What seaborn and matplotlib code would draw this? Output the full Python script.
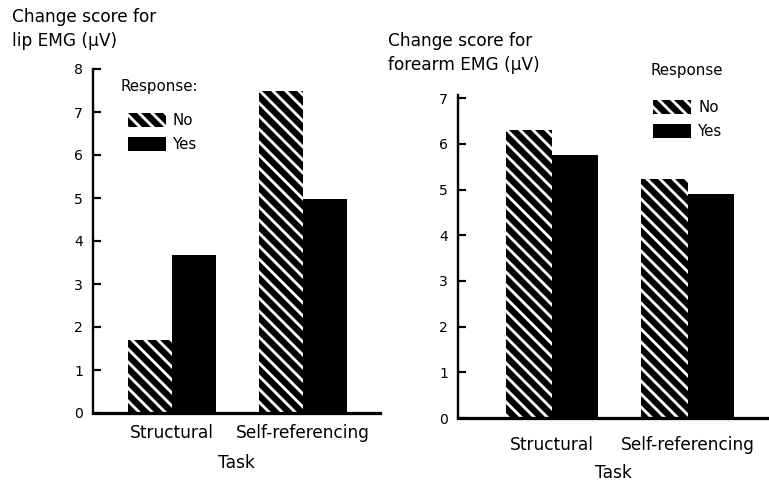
import numpy as np
import pandas as pd
import matplotlib
matplotlib.use("Agg")
import matplotlib.pyplot as plt
import seaborn as sns

# Change scores by task and response
tasks = ["Structural", "Self-referencing"]
responses = ["No", "Yes"]
lip_no = [1.70, 7.50]
lip_yes = [3.68, 4.97]
forearm_no = [6.30, 5.23]
forearm_yes = [5.75, 4.90]
lip_ticks = [0, 1, 2, 3, 4, 5, 6, 7, 8]
forearm_ticks = [0, 1, 2, 3, 4, 5, 6, 7]

DPI = 78
PX = 72.0 / DPI  # points per pixel

sns.set_theme(style="white")
plt.rcParams["font.family"] = ["DejaVu Sans"]
plt.rcParams["text.color"] = "black"
plt.rcParams["axes.labelcolor"] = "black"
plt.rcParams["hatch.linewidth"] = 2.6


def frame(no_vals, yes_vals):
    rows = []
    for t, n, y in zip(tasks, no_vals, yes_vals):
        rows.append({"Task": t, "Response": responses[0], "value": n})
        rows.append({"Task": t, "Response": responses[1], "value": y})
    return pd.DataFrame(rows)


def draw_panel(ax, df, width, ylim, ticks, xlim, legend_title, title_xy,
               legend_anchor, xpad, labelpad):
    sns.barplot(data=df, x="Task", y="value", hue="Response",
                hue_order=responses, order=tasks,
                palette=["black", "black"], saturation=1, width=width,
                gap=0, legend=False, ax=ax, errorbar=None)
    # striped "No" bars: white diagonal hatching on black
    for p in ax.containers[0]:
        p.set_facecolor("black")
        p.set_edgecolor("white")
        p.set_linewidth(0)
        p.set_hatch("\\\\")
    for p in ax.containers[1]:
        p.set_facecolor("black")
        p.set_linewidth(0)

    ax.set_xlim(*xlim)
    ax.set_ylim(*ylim)
    ax.set_yticks(ticks)
    ax.set_yticklabels([str(t) for t in ticks])
    sns.despine(ax=ax, top=True, right=True)
    ax.spines["left"].set_linewidth(2.2)
    ax.spines["bottom"].set_linewidth(3.0)
    ax.spines["left"].set_color("black")
    ax.spines["bottom"].set_color("black")
    ax.tick_params(axis="y", direction="in", length=7, width=2.0,
                   colors="black", labelsize=14 * PX, pad=9, left=True)
    ax.tick_params(axis="x", length=0, labelsize=17 * PX, pad=xpad,
                   colors="black")
    ax.set_ylabel("")
    ax.set_xlabel("Task", fontsize=17 * PX, color="black", labelpad=labelpad)

    handles = [ax.containers[0].patches[0], ax.containers[1].patches[0]]
    ax.legend(handles, responses, frameon=False,
              loc="upper left", bbox_to_anchor=legend_anchor,
              fontsize=15 * PX, borderpad=0, borderaxespad=0,
              handlelength=2.5, handleheight=1.05, handletextpad=0.5,
              labelspacing=0.6)
    ax.text(title_xy[0], title_xy[1], legend_title, transform=ax.transAxes,
            ha="left", va="center", fontsize=15 * PX)


fig = plt.figure(figsize=(769 / DPI, 482 / DPI), dpi=DPI)

ax1 = fig.add_axes([93 / 769, 1 - 413 / 482, (380 - 93) / 769, 344 / 482])
draw_panel(ax1, frame(lip_no, lip_yes), 0.67, (0, 8), lip_ticks,
           (-0.603, 1.59), "Response:", ((120 - 93) / 287, (413 - 86) / 344),
           ((128 - 93) / 287, (413 - 113) / 344), 10, 11)
fig.text(12 / 769, 1 - 8 / 482, "Change score for\nlip EMG (\u03bcV)",
         ha="left", va="top", fontsize=17 * PX, linespacing=1.4)

ax2 = fig.add_axes([458 / 769, 1 - 418 / 482, (769 - 458) / 769, 323 / 482])
draw_panel(ax2, frame(forearm_no, forearm_yes), 0.68, (0, 7.07),
           forearm_ticks, (-0.69, 1.6), "Response",
           ((650 - 458) / 311, (418 - 70) / 323),
           ((653 - 458) / 311, (418 - 100) / 323), 17, 9)
fig.text(388 / 769, 1 - 32 / 482, "Change score for\nforearm EMG (\u03bcV)",
         ha="left", va="top", fontsize=17 * PX, linespacing=1.4)

fig.savefig("out.png", dpi=DPI, facecolor="white")
